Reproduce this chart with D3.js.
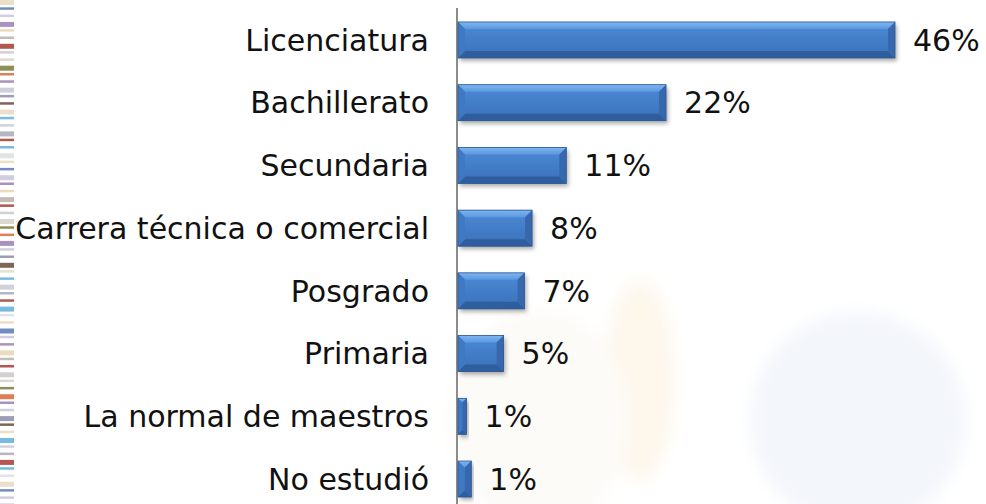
<!DOCTYPE html>
<html>
<head>
<meta charset="utf-8">
<script src="https://cdn.jsdelivr.net/npm/d3@7"></script>
<style>
  html, body { margin: 0; padding: 0; background: #ffffff; }
  svg { display: block; }
</style>
</head>
<body>
<svg id="chart" width="986" height="504"></svg>
<script>
// ---- data ----
const categories = ["Licenciatura", "Bachillerato", "Secundaria", "Carrera técnica o comercial",
                    "Posgrado", "Primaria", "La normal de maestros", "No estudió"];
const values = [46, 21.9, 11.4, 7.8, 7.0, 4.8, 0.9, 1.4];
const valueLabels = ["46%", "22%", "11%", "8%", "7%", "5%", "1%", "1%"];
const stripeColors = ["#e8d9c0", "#5b78b8", "#c9c3d9", "#9a7fb3", "#e9d3b3", "#b9b3a8",
                      "#a83a32", "#c9c9c9", "#d8d0c4", "#7b7a3a", "#d66a3a", "#9a7fb3",
                      "#c7c7d6", "#8c8ca8", "#6a4a3a", "#e8d9c0", "#5fb0d8", "#c9c9d6",
                      "#a8a8b8", "#a83a32", "#5fb0d8", "#dedede"];

const W = 986, H = 504;
const svg = d3.select("#chart");

// ---- defs ----
const defs = svg.append("defs");
const f = defs.append("filter").attr("id", "shadow").attr("x", "-10%").attr("y", "-30%").attr("width", "130%").attr("height", "180%");
f.append("feDropShadow").attr("dx", 2).attr("dy", 3).attr("stdDeviation", 2.2)
  .attr("flood-color", "#000").attr("flood-opacity", 0.33);
defs.append("filter").attr("id", "soft").attr("x", "-30%").attr("y", "-30%").attr("width", "160%").attr("height", "160%")
  .append("feGaussianBlur").attr("stdDeviation", 8);
defs.append("filter").attr("id", "soft2")
  .append("feGaussianBlur").attr("stdDeviation", 0.7);
const g1 = defs.append("linearGradient").attr("id", "face").attr("x1", 0).attr("y1", 0).attr("x2", 0).attr("y2", 1);
g1.append("stop").attr("offset", "0%").attr("stop-color", "#4c8ad6");
g1.append("stop").attr("offset", "100%").attr("stop-color", "#3a71b9");
const g2 = defs.append("linearGradient").attr("id", "topb").attr("x1", 0).attr("y1", 0).attr("x2", 0).attr("y2", 1);
g2.append("stop").attr("offset", "0%").attr("stop-color", "#7db6f2");
g2.append("stop").attr("offset", "100%").attr("stop-color", "#5c98e0");

// ---- background watermark ----
const bg = svg.append("g");
bg.append("rect").attr("x", 0).attr("y", 0).attr("width", W).attr("height", H).attr("fill", "#ffffff");
const wm = bg.append("g").attr("filter", "url(#soft)");
wm.append("circle").attr("cx", 858).attr("cy", 420).attr("r", 108).attr("fill", "#f3f6fb");
wm.append("ellipse").attr("cx", 640).attr("cy", 380).attr("rx", 35).attr("ry", 100).attr("fill", "#fdf7ec");
wm.append("ellipse").attr("cx", 540).attr("cy", 420).attr("rx", 90).attr("ry", 110).attr("fill", "#fdfbf7");

// left decorative stripe strip
const stripe = svg.append("g").attr("filter", "url(#soft2)");
const stripeStep = 7.3;
d3.range(Math.ceil(H / stripeStep)).forEach(i => {
  stripe.append("rect")
    .attr("x", 0).attr("y", i * stripeStep)
    .attr("width", 14).attr("height", (i % 3 === 0) ? 5 : 2.5)
    .attr("fill", stripeColors[i % stripeColors.length])
    .attr("opacity", 0.85);
});

// ---- scales ----
const x = d3.scaleLinear().domain([0, 46]).range([458, 895]);
const y = d3.scaleBand().domain(categories).range([8.6, 510.4]).paddingInner(0.426).paddingOuter(0.213);

// ---- axis line ----
svg.append("line")
  .attr("x1", 457).attr("x2", 457).attr("y1", 8).attr("y2", H)
  .attr("stroke", "#8c8c8c").attr("stroke-width", 2);

// ---- bars ----
const bars = svg.append("g").selectAll("g.bar").data(categories).join("g").attr("class", "bar");
bars.each(function(c, i) {
  const g = d3.select(this);
  const x0 = x(0), x1 = x(values[i]);
  const y0 = y(c), h = y.bandwidth(), y1 = y0 + h;
  const b = Math.min(7, (x1 - x0) / 2);
  g.append("rect").attr("x", x0).attr("y", y0).attr("width", x1 - x0).attr("height", h)
    .attr("fill", "url(#face)").attr("filter", "url(#shadow)");
  g.append("path").attr("d", `M${x0},${y0}L${x1},${y0}L${x1 - b},${y0 + b}L${x0 + b},${y0 + b}Z`).attr("fill", "url(#topb)");
  g.append("path").attr("d", `M${x0},${y1}L${x1},${y1}L${x1 - b},${y1 - b}L${x0 + b},${y1 - b}Z`).attr("fill", "#2f5e9e");
  g.append("path").attr("d", `M${x1},${y0}L${x1},${y1}L${x1 - b},${y1 - b}L${x1 - b},${y0 + b}Z`).attr("fill", "#3768ae");
  g.append("path").attr("d", `M${x0},${y0}L${x0},${y1}L${x0 + b},${y1 - b}L${x0 + b},${y0 + b}Z`).attr("fill", "#3f79c4");
  g.append("rect").attr("x", x0).attr("y", y0).attr("width", x1 - x0).attr("height", h)
    .attr("fill", "none").attr("stroke", "#2c5791").attr("stroke-width", 0.8);
});

// ---- category labels ----
svg.append("g").selectAll("text").data(categories).join("text")
  .attr("x", 429)
  .attr("y", c => y(c) + y.bandwidth() / 2)
  .attr("dy", "0.36em")
  .attr("text-anchor", "end")
  .attr("font-family", "'DejaVu Sans', Verdana, sans-serif")
  .attr("font-size", 30)
  .attr("fill", "#111")
  .text(c => c);

// ---- value labels ----
svg.append("g").selectAll("text").data(categories).join("text")
  .attr("x", (c, i) => x(values[i]) + 18)
  .attr("y", c => y(c) + y.bandwidth() / 2)
  .attr("dy", "0.36em")
  .attr("font-family", "'DejaVu Sans', Verdana, sans-serif")
  .attr("font-size", 30)
  .attr("fill", "#111")
  .text((c, i) => valueLabels[i]);
</script>
</body>
</html>
